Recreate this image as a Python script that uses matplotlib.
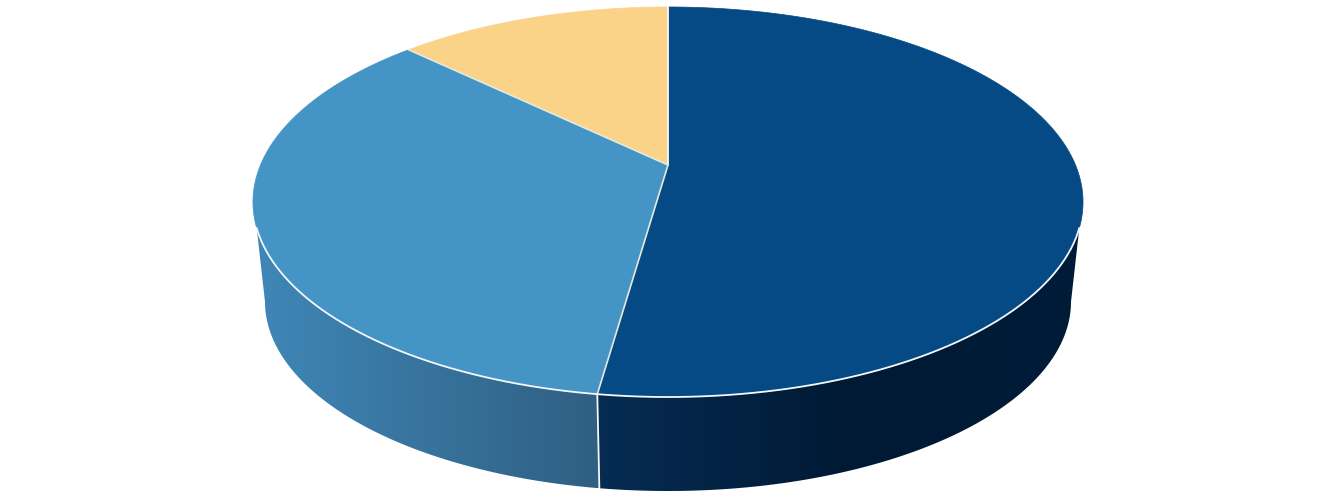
import numpy as np
import matplotlib
matplotlib.use('Agg')
from matplotlib import pyplot as plt
from matplotlib.colors import LinearSegmentedColormap
from matplotlib.patches import PathPatch, Polygon
from matplotlib.path import Path

# share of each slice, clockwise from 12 o'clock
slice_names = ['dark blue', 'mid blue', 'yellow']
slice_values = [52.25, 34.95, 12.8]
top_colors = ['#064a85', '#4495c6', '#fbd388']
side_colors = [['#062c54', '#001a35', '#001c38'], ['#3f87b7', '#2f5f82'], ['#c9a96d', '#c9a96d']]
seam_colors = ['#ffffff', '#e6e8dc', '#e6e8dc']

# perspective of the disc, in image pixels
cx, apex_y = 668.0, 165.0
k, a, c = 407.5, 156.7, -0.1897
shrink, vanish_y = 0.971, 3638.0
front_from, front_to = 108.4, 251.6  # part of the top rim that faces the viewer, degrees
bottom_from, bottom_to = 101.0, 259.0  # the lower rim shows a bit further round


def top_xy(deg):
    t = np.radians(deg)
    u, v = np.sin(t), -np.cos(t)
    w = 1 + c * v
    return cx + k * u / w, (a * v + apex_y) / w


def bottom_xy(deg):
    x, y = top_xy(deg)
    return cx + shrink * (x - cx), vanish_y + shrink * (y - vanish_y)


def draw_side(ax, start, end, colors):
    lo, hi = max(start, front_from), min(end, front_to)
    if lo >= hi:
        return
    xt, yt = top_xy(np.linspace(lo, hi, 120))
    # outer ends of the rim run on to where the lower edge turns away
    lo_b = bottom_from if lo == front_from else lo
    hi_b = bottom_to if hi == front_to else hi
    xb, yb = bottom_xy(np.linspace(lo_b, hi_b, 120))
    pts = np.vstack([np.column_stack([xt, yt]), np.column_stack([xb, yb])[::-1]])
    clip = PathPatch(Path(np.vstack([pts, pts[:1]]), closed=True), fc='none', ec='none', transform=ax.transData)
    ax.add_patch(clip)
    cmap = LinearSegmentedColormap.from_list('side', colors[::-1] if xt[0] < xt[-1] else colors)
    grad = np.linspace(0, 1, 256).reshape(1, -1)
    im = ax.imshow(grad, cmap=cmap, extent=(pts[:, 0].min(), pts[:, 0].max(), pts[:, 1].max(), pts[:, 1].min()),
                   aspect='auto', zorder=1, interpolation='bilinear')
    im.set_clip_path(clip)


def main():
    fig = plt.figure(figsize=(13.36, 5.03), dpi=100)
    ax = fig.add_axes([0, 0, 1, 1])

    edges = np.concatenate([[0], np.cumsum(slice_values)]) / np.sum(slice_values) * 360

    for i in range(len(slice_values)):
        draw_side(ax, edges[i], edges[i + 1], side_colors[i])

    for i in range(len(slice_values)):
        degs = np.linspace(edges[i], edges[i + 1], 200)
        xs, ys = top_xy(degs)
        pts = np.column_stack([np.r_[cx, xs], np.r_[apex_y, ys]])
        ax.add_patch(Polygon(pts, closed=True, fc=top_colors[i], ec=top_colors[i], lw=0.5, zorder=2))

    # white rim along the front of the top face
    degs = np.linspace(front_from, front_to, 300)
    xs, ys = top_xy(degs)
    ax.plot(xs, ys, color='#f2f8fb', lw=1.3, zorder=3)

    # seams between the slices
    for i in range(len(slice_values)):
        x, y = top_xy(edges[i])
        ax.plot([cx, x], [apex_y, y], color=seam_colors[i], lw=1.2, zorder=3)
        if front_from < edges[i] < front_to:
            xb, yb = bottom_xy(edges[i])
            ax.plot([x, xb], [y, yb], color='#f2f8fb', lw=1.3, zorder=3)

    ax.set_xlim(0, 1336)
    ax.set_ylim(503, 0)
    ax.axis('off')
    fig.savefig('out.png', dpi=100)
    plt.close(fig)


if __name__ == '__main__':
    main()
